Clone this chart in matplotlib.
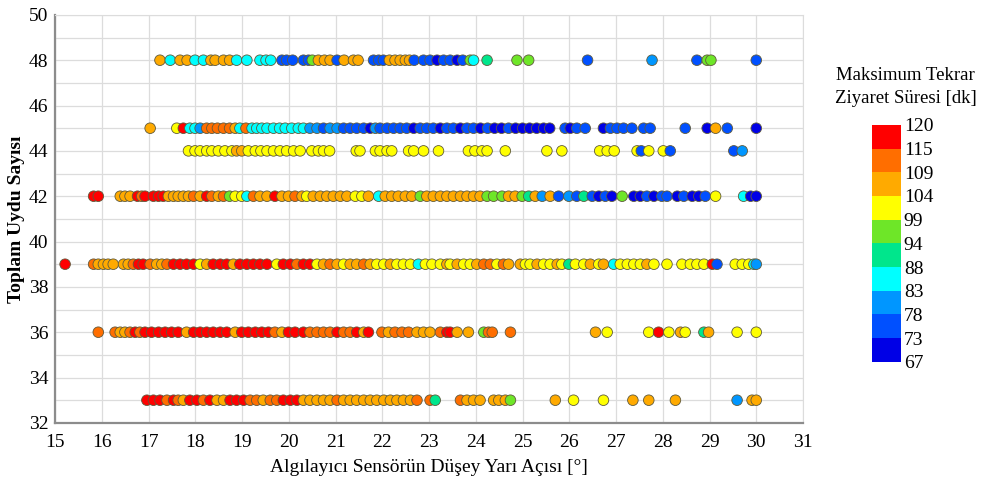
import matplotlib
matplotlib.use("Agg")
import matplotlib.pyplot as plt
from matplotlib.colors import ListedColormap, BoundaryNorm
import numpy as np

plt.rcParams['font.family'] = ['Liberation Serif', 'DejaVu Serif']

# Toplam uydu sayısı seviyeleri
uydu_sayilari = [48, 45, 44, 42, 39, 36, 33]

# Her seviye için yarı açı [°] ve maksimum tekrar ziyaret süresi [dk]
aci_48 = [17.24, 17.46, 17.67, 17.82, 17.99, 18.17, 18.33, 18.42, 18.60, 18.73, 18.88, 19.10, 19.38, 19.51,
          19.61, 19.85, 19.95, 20.08, 20.31, 20.42, 20.50, 20.63, 20.76, 20.88, 21.03, 21.18, 21.38, 21.48,
          21.81, 21.92, 22.02, 22.15, 22.27, 22.38, 22.49, 22.58, 22.68, 22.88, 23.02, 23.17, 23.31, 23.45,
          23.60, 23.72, 23.88, 23.95, 24.24, 24.88, 25.13, 26.39, 27.77, 28.73, 28.95, 29.03, 30.0]
sure_48 = [106, 85, 106, 106, 85, 85, 106, 106, 106, 106, 85, 85, 85, 85,
           85, 75, 75, 75, 75, 75, 96, 106, 106, 106, 75, 106, 106, 106,
           75, 75, 75, 106, 106, 106, 106, 106, 75, 75, 75, 70, 75, 75,
           70, 75, 96, 85, 91, 96, 96, 75, 80, 75, 96, 96, 75]

aci_45 = [17.03, 17.60, 17.74, 17.88, 17.99, 18.10, 18.24, 18.35, 18.47, 18.60, 18.73, 18.85, 18.95, 19.08,
          19.21, 19.31, 19.42, 19.53, 19.67, 19.80, 19.92, 20.06, 20.20, 20.31, 20.45, 20.60, 20.74, 20.88,
          21.03, 21.17, 21.31, 21.45, 21.60, 21.74, 21.85, 21.95, 22.10, 22.24, 22.38, 22.52, 22.67, 22.81,
          22.95, 23.09, 23.24, 23.38, 23.52, 23.67, 23.81, 23.95, 24.10, 24.25, 24.40, 24.55, 24.70, 24.85,
          25.00, 25.15, 25.30, 25.45, 25.58, 25.91, 26.02, 26.16, 26.34, 26.73, 26.88, 27.02, 27.16, 27.34,
          27.59, 27.73, 28.48, 28.95, 29.13, 29.38, 30.0]
sure_45 = [106, 101, 118, 85, 85, 80, 112, 112, 112, 112, 112, 106, 85, 112,
           85, 85, 85, 85, 85, 85, 85, 85, 85, 85, 80, 80, 75, 80,
           80, 75, 75, 75, 75, 70, 80, 75, 75, 75, 75, 75, 70, 75,
           75, 75, 70, 75, 75, 70, 75, 75, 70, 75, 70, 70, 75, 70,
           70, 70, 70, 70, 70, 75, 70, 75, 75, 70, 75, 75, 75, 75,
           75, 75, 75, 70, 106, 75, 70]

aci_44 = [17.85, 17.99, 18.10, 18.24, 18.35, 18.49, 18.63, 18.78, 18.88, 18.99, 19.13, 19.28, 19.40, 19.53,
          19.67, 19.81, 19.95, 20.10, 20.24, 20.49, 20.63, 20.74, 20.87, 21.44, 21.52, 21.85, 21.95, 22.10,
          22.20, 22.56, 22.67, 22.88, 23.20, 23.84, 23.98, 24.13, 24.24, 24.63, 25.52, 25.84, 26.65, 26.81,
          26.96, 27.45, 27.54, 27.70, 28.01, 28.16, 29.52, 29.70]
sure_44 = [101, 101, 101, 101, 101, 101, 101, 101, 106, 106, 101, 101, 101, 101,
           101, 101, 101, 101, 101, 101, 101, 101, 101, 101, 101, 101, 101, 101,
           101, 101, 101, 101, 101, 101, 101, 101, 101, 101, 101, 101, 101, 101,
           101, 101, 75, 101, 101, 75, 75, 80]

aci_42 = [15.82, 15.92, 16.39, 16.49, 16.60, 16.76, 16.85, 16.92, 17.10, 17.21, 17.31, 17.42, 17.53, 17.63,
          17.74, 17.85, 17.96, 18.10, 18.24, 18.35, 18.49, 18.60, 18.73, 18.85, 18.99, 19.10, 19.24, 19.38,
          19.53, 19.70, 19.85, 19.99, 20.13, 20.28, 20.38, 20.52, 20.67, 20.81, 20.95, 21.10, 21.24, 21.42,
          21.56, 21.70, 21.92, 22.06, 22.20, 22.34, 22.49, 22.63, 22.81, 22.95, 23.09, 23.24, 23.38, 23.52,
          23.67, 23.81, 23.95, 24.09, 24.24, 24.38, 24.56, 24.70, 24.84, 24.99, 25.13, 25.27, 25.42, 25.59,
          25.77, 25.99, 26.16, 26.31, 26.49, 26.63, 26.77, 26.91, 27.13, 27.38, 27.52, 27.66, 27.81, 27.98,
          28.09, 28.31, 28.45, 28.63, 28.77, 28.91, 29.13, 29.73, 29.88, 30.0]
sure_42 = [118, 118, 106, 106, 106, 118, 112, 118, 118, 118, 118, 106, 106, 106,
           106, 106, 112, 106, 118, 112, 106, 112, 96, 101, 101, 85, 112, 106,
           106, 118, 106, 106, 112, 106, 101, 106, 106, 106, 106, 106, 106, 101,
           101, 106, 85, 106, 106, 106, 106, 106, 96, 106, 106, 106, 106, 106,
           106, 106, 106, 106, 96, 96, 96, 106, 106, 96, 91, 106, 80, 106,
           75, 80, 75, 91, 75, 70, 75, 70, 96, 70, 70, 75, 70, 75,
           75, 70, 75, 70, 70, 75, 101, 85, 70, 70]

aci_39 = [15.21, 15.82, 15.92, 16.03, 16.13, 16.24, 16.46, 16.56, 16.67, 16.78, 16.88, 17.03, 17.17, 17.28,
          17.39, 17.53, 17.67, 17.81, 17.96, 18.10, 18.24, 18.38, 18.53, 18.67, 18.81, 18.95, 19.10, 19.24,
          19.38, 19.53, 19.74, 19.88, 20.03, 20.17, 20.31, 20.45, 20.60, 20.74, 20.88, 21.03, 21.17, 21.31,
          21.45, 21.60, 21.74, 21.88, 22.03, 22.17, 22.31, 22.45, 22.60, 22.77, 22.92, 23.06, 23.24, 23.38,
          23.45, 23.60, 23.74, 23.88, 24.02, 24.17, 24.31, 24.45, 24.59, 24.70, 24.95, 25.06, 25.16, 25.31,
          25.45, 25.59, 25.74, 25.84, 25.99, 26.13, 26.31, 26.45, 26.63, 26.73, 26.95, 27.09, 27.24, 27.38,
          27.52, 27.66, 27.81, 28.09, 28.41, 28.59, 28.73, 28.88, 29.06, 29.16, 29.55, 29.70, 29.84, 29.95,
          30.0]
sure_39 = [118, 112, 106, 106, 106, 106, 106, 106, 112, 118, 118, 112, 106, 106,
           112, 118, 118, 118, 118, 101, 106, 118, 118, 118, 106, 118, 118, 118,
           118, 118, 101, 118, 118, 112, 118, 118, 101, 106, 112, 106, 101, 106,
           106, 112, 106, 101, 101, 106, 101, 101, 101, 85, 101, 101, 101, 106,
           101, 106, 101, 101, 106, 112, 112, 101, 112, 106, 106, 101, 101, 106,
           101, 101, 106, 101, 91, 101, 101, 106, 101, 106, 85, 101, 101, 101,
           101, 106, 101, 101, 101, 101, 101, 101, 118, 75, 101, 101, 101, 85,
           80]

aci_36 = [15.92, 16.28, 16.39, 16.49, 16.60, 16.71, 16.81, 16.92, 17.06, 17.21, 17.35, 17.49, 17.63, 17.81,
          17.96, 18.10, 18.24, 18.38, 18.53, 18.67, 18.85, 18.99, 19.13, 19.28, 19.42, 19.56, 19.70, 19.85,
          19.99, 20.13, 20.31, 20.45, 20.60, 20.74, 20.88, 21.03, 21.17, 21.31, 21.45, 21.60, 21.70, 21.99,
          22.13, 22.27, 22.42, 22.56, 22.74, 22.88, 23.02, 23.24, 23.38, 23.45, 23.60, 23.84, 24.17, 24.27,
          24.35, 24.74, 26.56, 26.81, 27.70, 27.91, 28.13, 28.38, 28.48, 28.88, 28.98, 29.59, 30.0]
sure_36 = [112, 112, 106, 106, 112, 118, 112, 118, 118, 118, 118, 118, 118, 106,
           118, 118, 118, 118, 118, 118, 106, 118, 118, 118, 118, 118, 112, 106,
           118, 118, 118, 112, 112, 112, 112, 118, 112, 112, 118, 106, 118, 112,
           106, 112, 112, 112, 106, 106, 106, 112, 118, 118, 106, 106, 96, 112,
           112, 112, 106, 101, 101, 118, 101, 106, 101, 91, 106, 101, 101]

aci_33 = [16.96, 17.10, 17.24, 17.39, 17.53, 17.63, 17.74, 17.88, 18.03, 18.17, 18.31, 18.46, 18.60, 18.74,
          18.88, 19.03, 19.17, 19.31, 19.45, 19.60, 19.74, 19.88, 20.03, 20.17, 20.31, 20.45, 20.60, 20.74,
          20.88, 21.03, 21.17, 21.31, 21.45, 21.60, 21.74, 21.88, 22.03, 22.17, 22.31, 22.45, 22.60, 22.74,
          23.02, 23.13, 23.67, 23.81, 23.95, 24.09, 24.38, 24.49, 24.63, 24.74, 25.70, 26.09, 26.73, 27.36,
          27.70, 28.27, 29.59, 29.91, 30.0]
sure_33 = [118, 118, 118, 112, 118, 112, 106, 118, 118, 112, 118, 106, 106, 118,
           118, 118, 112, 112, 106, 112, 112, 118, 118, 118, 106, 106, 106, 106,
           106, 112, 106, 106, 106, 106, 106, 106, 106, 106, 106, 106, 106, 112,
           112, 91, 112, 106, 106, 106, 106, 106, 106, 96, 106, 101, 101, 106,
           106, 106, 80, 106, 106]

# Renk skalası sınırları ve renkleri
sinirlar = [67, 73, 78, 83, 88, 94, 99, 104, 109, 115, 120]
renkler = ['#0000e6', '#0050ff', '#0096ff', '#00ffff', '#00e68c',
           '#6ee628', '#ffff00', '#ffaa00', '#ff6e00', '#ff0000']

cmap = ListedColormap(renkler)
norm = BoundaryNorm(sinirlar, cmap.N)

fig = plt.figure(figsize=(9.82, 4.8), dpi=100)
ax = fig.add_axes([0.0563, 0.119, 0.7614, 0.850])

satirlar = [(aci_48, sure_48), (aci_45, sure_45), (aci_44, sure_44), (aci_42, sure_42),
            (aci_39, sure_39), (aci_36, sure_36), (aci_33, sure_33)]
for n, (x, v) in zip(uydu_sayilari, satirlar):
    sc = ax.scatter(x, [n] * len(x), c=v, cmap=cmap, norm=norm, s=58,
                    edgecolors='#5f5a3c', linewidths=0.6, zorder=3)

ax.set_xlim(15, 31)
ax.set_ylim(32, 50)
ax.set_xticks(np.arange(15, 32, 1))
ax.set_yticks(np.arange(32, 51, 2))
ax.set_yticks(np.arange(33, 50, 2), minor=True)
ax.grid(True, which='both', color='#dcdcdc', linewidth=0.9, zorder=0)
ax.tick_params(which='both', length=0, labelsize=14)
ax.tick_params(axis='x', pad=8)
ax.tick_params(axis='y', pad=5)
for s in ['top', 'right']:
    ax.spines[s].set_color('#dcdcdc')
for s in ['left', 'bottom']:
    ax.spines[s].set_color('#8c8c8c')
    ax.spines[s].set_linewidth(1.6)

ax.set_xlabel('Algılayıcı Sensörün Düşey Yarı Açısı [°]', fontsize=14, labelpad=6)
ax.set_ylabel('Toplam Uydu Sayısı', fontsize=14, fontweight='bold', labelpad=3)

# Renk çubuğu
cax = fig.add_axes([0.888, 0.246, 0.0295, 0.494])
cb = fig.colorbar(sc, cax=cax, boundaries=sinirlar, ticks=sinirlar, spacing='uniform')
cb.outline.set_visible(False)
cax.tick_params(length=0, labelsize=14, pad=2)
fig.text(0.922, 0.818, 'Maksimum Tekrar\nZiyaret Süresi [dk]', ha='center', va='center',
         fontsize=13.5, linespacing=1.45)

fig.savefig('out.png', dpi=100)
